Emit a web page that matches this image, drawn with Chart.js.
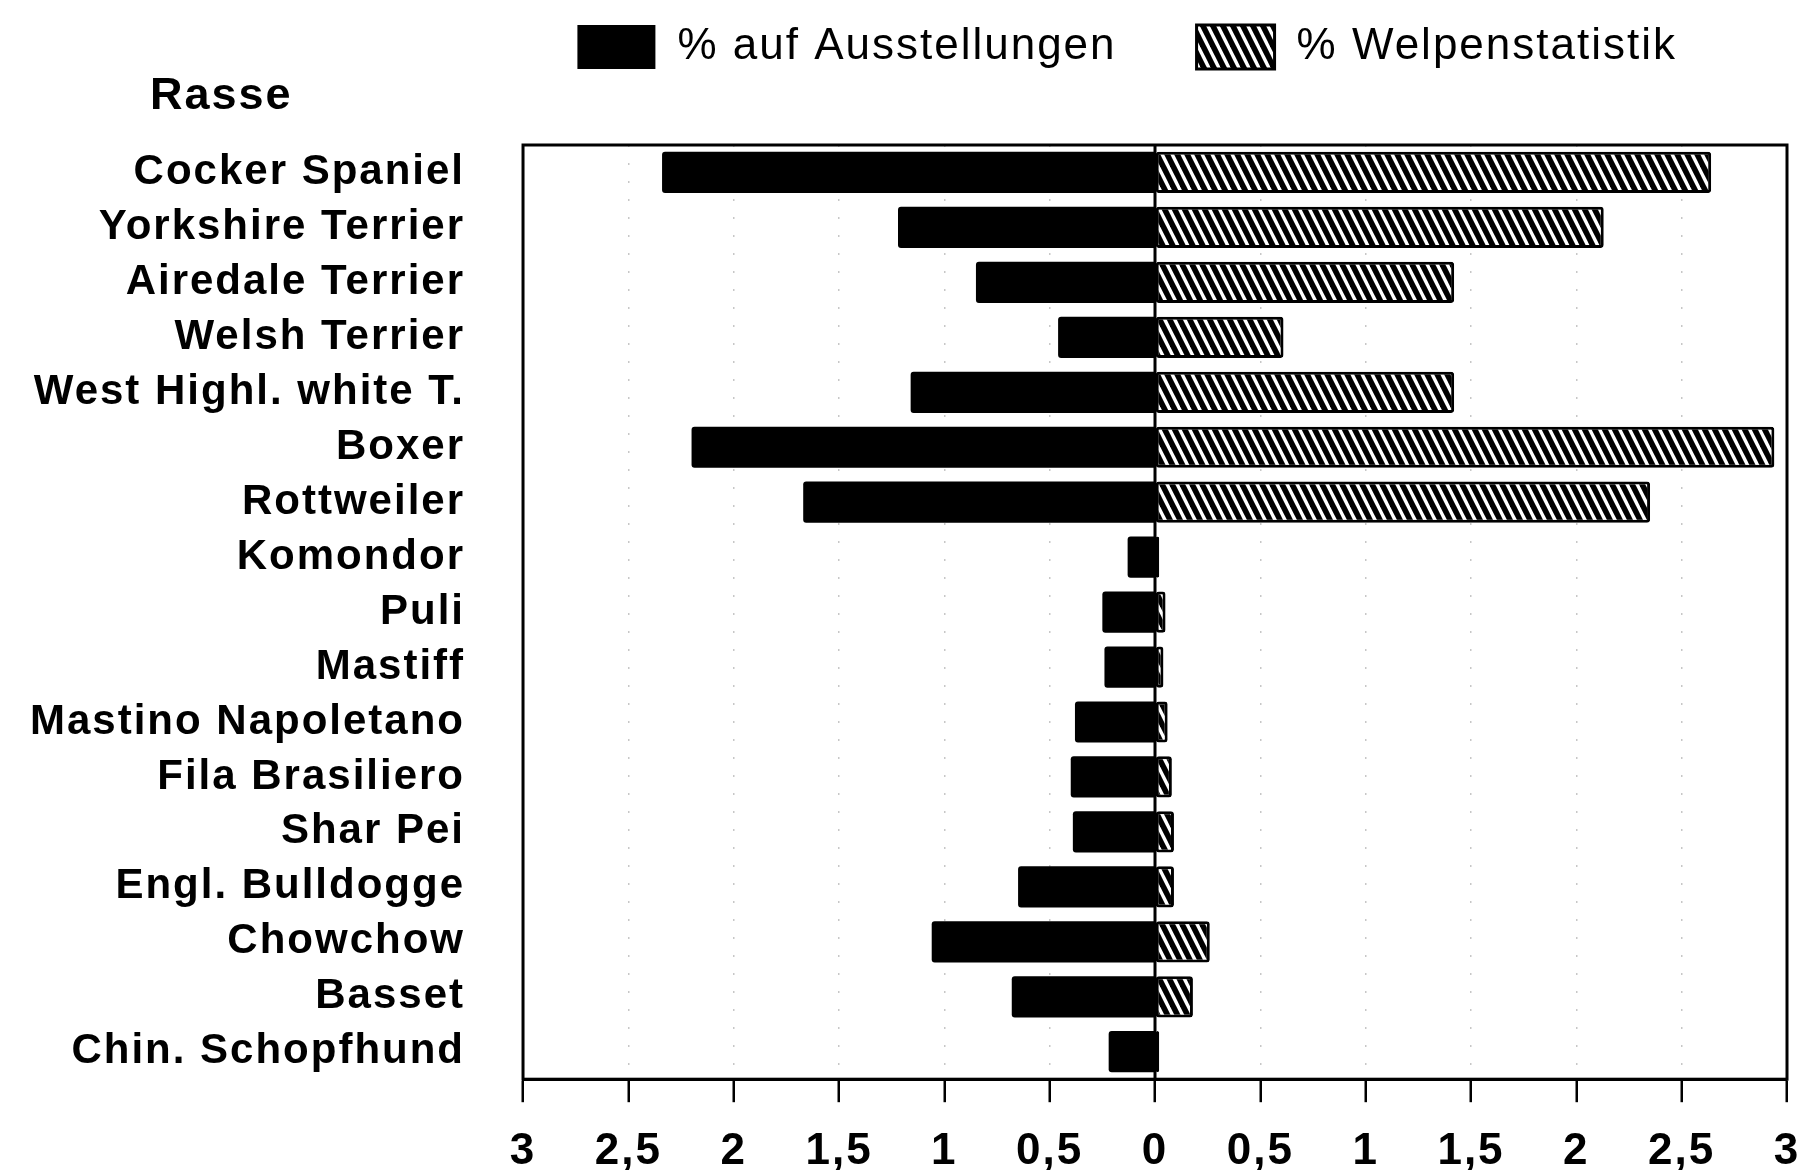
<!DOCTYPE html>
<html lang="de">
<head>
<meta charset="utf-8">
<title>Rasse – Ausstellungen und Welpenstatistik</title>
<script src="https://cdn.jsdelivr.net/npm/chart.js@4.4.1/dist/chart.umd.min.js"></script>
<style>
  html, body { margin: 0; padding: 0; background: #fff; }
  #wrap { width: 1802px; height: 1170px; position: relative; }
</style>
</head>
<body>
<div id="wrap"><canvas id="chart"></canvas></div>
<script>
// Breeds, top to bottom
const breeds = [
  'Cocker Spaniel', 'Yorkshire Terrier', 'Airedale Terrier', 'Welsh Terrier',
  'West Highl. white T.', 'Boxer', 'Rottweiler', 'Komondor', 'Puli', 'Mastiff',
  'Mastino Napoletano', 'Fila Brasiliero', 'Shar Pei', 'Engl. Bulldogge',
  'Chowchow', 'Basset', 'Chin. Schopfhund'
];

// % auf Ausstellungen (drawn to the left, hence negative)
const showPct = [-2.34, -1.22, -0.85, -0.46, -1.16, -2.20, -1.67, -0.13, -0.25,
                 -0.24, -0.38, -0.40, -0.39, -0.65, -1.06, -0.68, -0.22];

// % Welpenstatistik (drawn to the right)
const puppyPct = [2.64, 2.13, 1.42, 0.61, 1.42, 2.94, 2.35, 0.02, 0.05,
                  0.04, 0.06, 0.08, 0.09, 0.09, 0.26, 0.18, 0.02];

const seriesNames = ['% auf Ausstellungen', '% Welpenstatistik'];
const axisTitle = 'Rasse';
const xMin = -3, xMax = 3, xStep = 0.5;

const FONT = "'Liberation Sans', Arial, sans-serif";
const canvas = document.getElementById('chart');
const ctx = canvas.getContext('2d');

// diagonal hatch like the scanned original
function makeHatch() {
  const tile = document.createElement('canvas');
  tile.width = 10; tile.height = 20;
  const g = tile.getContext('2d');
  g.fillStyle = '#fff';
  g.fillRect(0, 0, 10, 20);
  g.strokeStyle = '#000';
  g.lineWidth = 5.5;
  for (let k = -1; k <= 1; k++) {
    g.beginPath();
    g.moveTo(k * 10 - 5, -10);
    g.lineTo(k * 10 + 15, 30);
    g.stroke();
  }
  return ctx.createPattern(tile, 'repeat');
}
const hatch = makeHatch();

// letter spacing for the wide type of the original, plus frame, zero line and "Rasse"
const extras = {
  id: 'extras',
  beforeUpdate(chart) { chart.ctx.letterSpacing = '2px'; },
  beforeDraw(chart) { chart.ctx.letterSpacing = '2px'; },
  beforeLayout(chart) {
    const lg = chart.legend;
    if (lg && !lg._patched) {
      const fit = lg.fit;
      lg.fit = function () { fit.call(this); this.height += 66; };
      lg._patched = true;
    }
  },
  afterLayout(chart) {
    // legend sits a little left of the right edge in the original
    const lg = chart.legend;
    if (lg) { lg.left -= 30; lg.right -= 30; }
  },
  afterDatasetsDraw(chart) {
    const { ctx, chartArea: a, scales: { x } } = chart;
    ctx.save();
    ctx.strokeStyle = '#000';
    ctx.lineWidth = 3;
    ctx.strokeRect(a.left, a.top, a.right - a.left, a.bottom - a.top);
    const x0 = x.getPixelForValue(0);
    ctx.beginPath();
    ctx.moveTo(x0, a.top);
    ctx.lineTo(x0, a.bottom);
    ctx.stroke();
    ctx.restore();
  },
  afterDraw(chart) {
    const c = chart.ctx;
    c.save();
    c.letterSpacing = '2px';
    c.font = `bold 45px ${FONT}`;
    c.fillStyle = '#000';
    c.textAlign = 'left';
    c.textBaseline = 'alphabetic';
    c.fillText(axisTitle, 150, 109);
    c.restore();
  }
};

new Chart(ctx, {
  type: 'bar',
  data: {
    labels: breeds,
    datasets: [
      {
        label: seriesNames[0],
        data: showPct,
        backgroundColor: '#000',
        borderWidth: 0,
        borderRadius: 3
      },
      {
        label: seriesNames[1],
        data: puppyPct,
        backgroundColor: hatch,
        borderColor: '#000',
        borderWidth: 3,
        borderRadius: 3,
        borderSkipped: false
      }
    ]
  },
  options: {
    indexAxis: 'y',
    responsive: true,
    maintainAspectRatio: false,
    animation: false,
    datasets: { bar: { categoryPercentage: 1, barPercentage: 0.75 } },
    layout: { autoPadding: false, padding: { top: -55, left: -28, right: 15, bottom: -31 } },
    plugins: {
      tooltip: { enabled: false },
      legend: {
        position: 'top',
        align: 'end',
        labels: {
          color: '#000',
          font: { family: FONT, size: 44, weight: 'normal' },
          boxWidth: 78,
          boxHeight: 44,
          padding: 80
        }
      }
    },
    scales: {
      x: {
        stacked: true,
        min: xMin,
        max: xMax,
        afterFit: (scale) => { scale.paddingLeft = 0; scale.paddingRight = 0; },
        ticks: {
          stepSize: xStep,
          color: '#000',
          font: { family: FONT, size: 44, weight: 'bold' },
          padding: 23,
          maxRotation: 0,
          callback: (v) => String(Math.abs(v)).replace('.', ',')
        },
        grid: {
          color: 'rgba(0,0,0,0.22)',
          lineWidth: 1.5,
          tickLength: 23,
          tickColor: '#000',
          tickWidth: 2.5,
          tickBorderDash: []
        },
        border: { display: true, color: '#000', width: 3, dash: [2, 16] }
      },
      y: {
        stacked: true,
        ticks: {
          color: '#000',
          font: { family: FONT, size: 42, weight: 'bold' },
          padding: 58,
          autoSkip: false
        },
        grid: { display: false, drawTicks: false },
        border: { display: false }
      }
    }
  },
  plugins: [extras]
});
</script>
</body>
</html>
